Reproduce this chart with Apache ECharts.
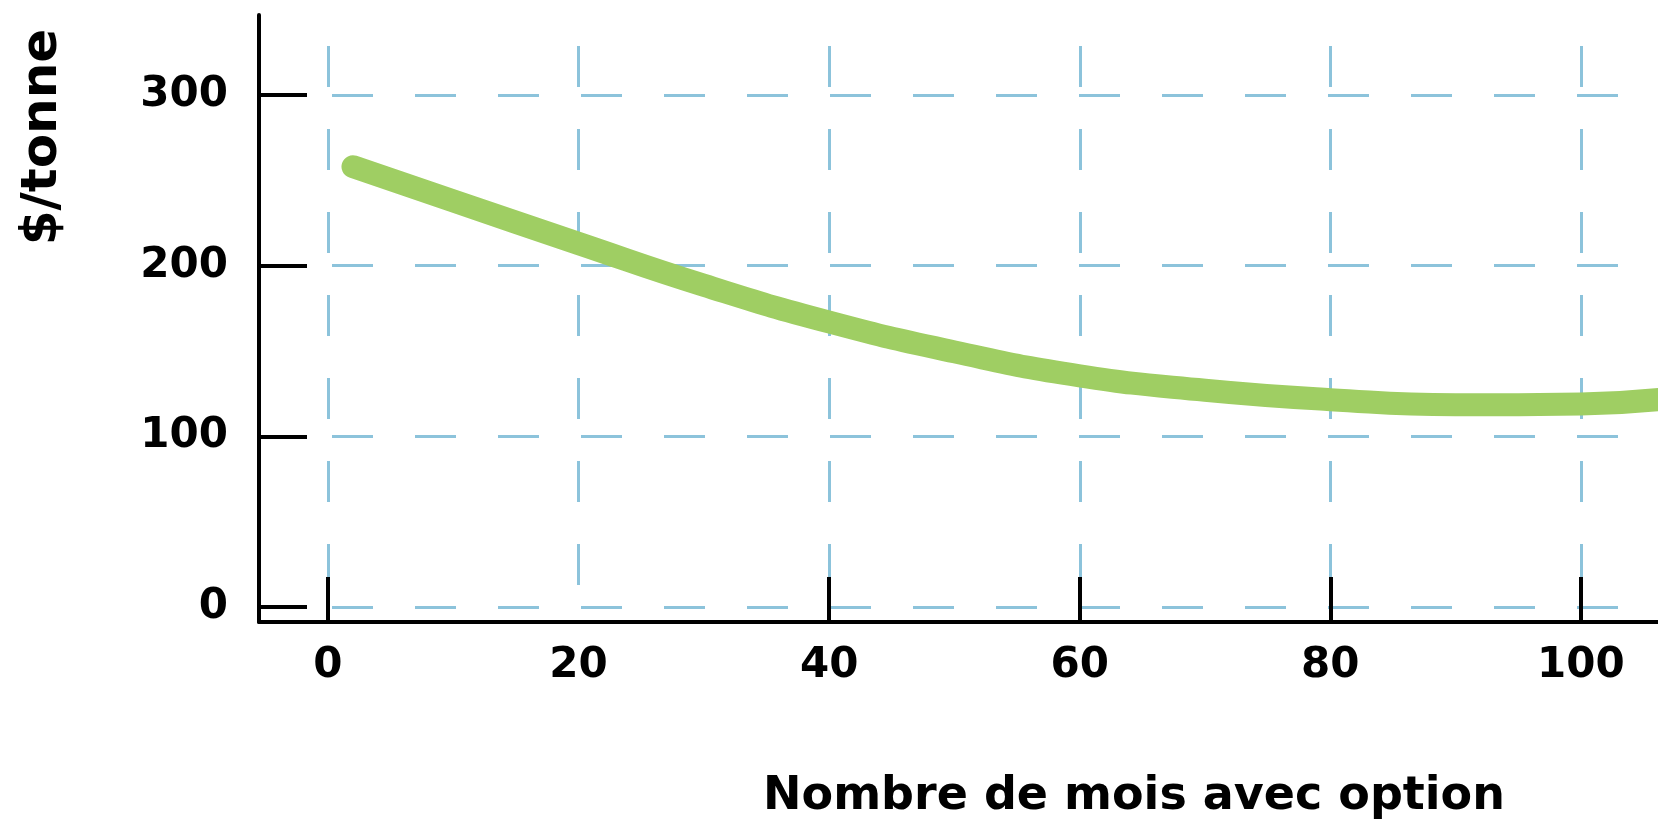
<!DOCTYPE html>
<html>
<head>
<meta charset="utf-8">
<script src="https://cdn.jsdelivr.net/npm/echarts@6/dist/echarts.min.js"></script>
<style>
html,body{margin:0;padding:0;background:#fff;}
#chart{width:1658px;height:820px;}
</style>
</head>
<body>
<div id="chart"></div>
<script>
// Data
const monthsX = [2, 10, 20, 30, 40, 50, 60, 70, 80, 90, 100, 107];
const priceY = [258, 238, 213, 188.5, 167, 149.5, 135.5, 127, 121.5, 118.5, 119, 122.2];
const xLabelValues = [0, 20, 40, 60, 80, 100];
const xTickValues = [0, 40, 60, 80, 100];
const yLabelValues = [0, 100, 200, 300];
const xTitle = 'Nombre de mois avec option';
const yTitle = '$/tonne';

const FONT = 'DejaVu Sans';
const chart = echarts.init(document.getElementById('chart'));
const gridColor = '#8cc3db';
const dash = { color: gridColor, width: 3, type: [41, 42], dashOffset: -4 };

chart.setOption({
  animation: false,
  backgroundColor: '#ffffff',
  grid: [
    { left: 259, right: 0, top: 15, bottom: 198, containLabel: false },
    { left: 328, right: 0, top: 42, bottom: 213, containLabel: false }
  ],
  xAxis: [
    {
      type: 'value', gridIndex: 0, min: -5.5, max: 106.15,
      axisLine: { show: true, onZero: false, lineStyle: { color: '#000', width: 4 } },
      axisTick: { show: true, inside: true, length: 45, customValues: xTickValues, lineStyle: { color: '#000', width: 4 } },
      axisLabel: { show: true, customValues: xLabelValues, margin: 23, color: '#000', fontFamily: FONT, fontWeight: 'bold', fontSize: 42 },
      splitLine: { show: false }
    },
    {
      type: 'value', gridIndex: 1, min: 0, max: 106.15, interval: 20,
      axisLine: { show: false }, axisTick: { show: false }, axisLabel: { show: false },
      splitLine: { show: true, showMaxLine: false, lineStyle: dash }
    }
  ],
  yAxis: [
    {
      type: 'value', gridIndex: 0, min: -8.79, max: 346.9,
      axisLine: { show: true, onZero: false, lineStyle: { color: '#000', width: 4 } },
      axisTick: { show: true, inside: true, length: 48, customValues: yLabelValues, lineStyle: { color: '#000', width: 4 } },
      axisLabel: { show: true, customValues: yLabelValues, margin: 31, color: '#000', fontFamily: FONT, fontWeight: 'bold', fontSize: 42 },
      splitLine: { show: false }
    },
    {
      type: 'value', gridIndex: 1, min: 0, max: 331, interval: 100,
      axisLine: { show: false }, axisTick: { show: false }, axisLabel: { show: false },
      splitLine: { show: true, showMaxLine: false, lineStyle: dash }
    }
  ],
  graphic: [
    {
      type: 'text', x: 1134, y: 797,
      style: { text: xTitle, fill: '#000', font: 'bold 46px "DejaVu Sans"', textAlign: 'center', textVerticalAlign: 'middle' }
    },
    {
      type: 'text', x: 43, y: 137, rotation: Math.PI / 2,
      style: { text: yTitle, fill: '#000', font: 'bold 50px "DejaVu Sans"', textAlign: 'center', textVerticalAlign: 'middle' }
    }
  ],
  series: [
    {
      type: 'line', xAxisIndex: 0, yAxisIndex: 0,
      data: monthsX.map((x, i) => [x, priceY[i]]),
      smooth: 0.5,
      symbol: 'none', showSymbol: false, clip: true, z: 3,
      lineStyle: { width: 23, color: '#9fce63', cap: 'round', join: 'round' }
    }
  ]
});
</script>
</body>
</html>
